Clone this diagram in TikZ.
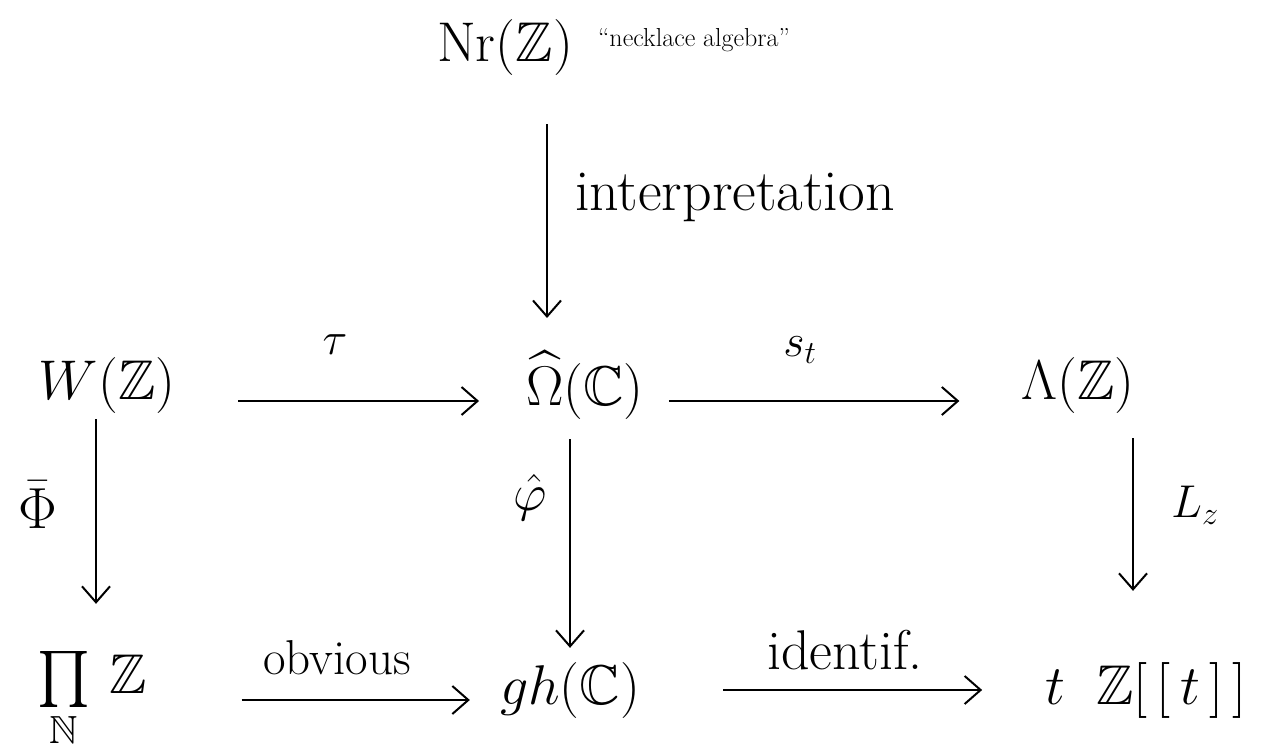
\RequirePackage{fix-cm}
\documentclass[tikz,border=0pt]{standalone}
\usepackage{amsmath,amssymb}
\usetikzlibrary{arrows.meta}
\begin{document}
\begin{tikzpicture}[x=1pt,y=-1pt,
  obj/.style={font=\fontsize{56}{64}\selectfont, inner sep=3pt},
  mlbl/.style={font=\fontsize{46}{52}\selectfont, inner sep=0pt},
  wlbl/.style={inner sep=0pt},
  arr/.style={-{Straight Barb[length=16pt,width=28pt,line width=2pt]}, line width=2pt}]
\useasboundingbox (0,0) rectangle (1276,754);
% objects
\node[obj] (N) at (505,48) {$\mathrm{Nr}(\mathbb{Z})$};
\node[wlbl, font=\fontsize{26}{30}\selectfont, anchor=west] (nl) at (598,40) {``necklace algebra''};
\node[obj] (W) at (107,385) {$W(\mathbb{Z})$};
\node[obj] (O) at (585,385) {$\widehat{\Omega}(\mathbb{C})$};
\node[obj] (L) at (1078,385) {$\Lambda(\mathbb{Z})$};
\node[obj] (P) at (92,700) {$\prod\limits_{\mathbb{N}}\,\mathbb{Z}$};
\node[obj] (G) at (570,690) {$gh(\mathbb{C})$};
\node[obj] (T) at (1146,690) {$t\;\;\mathbb{Z}[\,[\,t\,]\,]$};
% labels
\node[wlbl, font=\fontsize{58}{64}\selectfont, anchor=west] (il) at (575,197) {interpretation};
\node[mlbl] (tau) at (335,345) {$\tau$};
\node[mlbl] (st) at (800,350) {$s_t$};
\node[mlbl, font=\fontsize{58}{64}\selectfont] (phi) at (38,505) {$\bar{\Phi}$};
\node[mlbl, font=\fontsize{52}{60}\selectfont] (vphi) at (530,497) {$\hat{\varphi}$};
\node[mlbl] (lz) at (1195,505) {$L_z$};
\node[wlbl, font=\fontsize{49}{56}\selectfont] (ob) at (337,658) {obvious};
\node[wlbl, font=\fontsize{56}{62}\selectfont] (id) at (845,650) {identif.};
% arrows
\draw[arr, shorten <=45pt] ([xshift=42pt]N.south) -- ([xshift=-38pt]O.north |- 0,318);
\draw[arr, shorten <=60pt, shorten >=44pt] ([yshift=-16pt]W.east) -- ([yshift=-16pt]O.west);
\draw[arr, shorten <=22pt, shorten >=59pt] ([yshift=-16pt]O.east) -- ([yshift=-16pt]L.west);
\draw[arr, shorten <=3pt, shorten >=44pt] ([xshift=-11pt]W.south) -- ([xshift=-11pt]W.south |- P.north);
\draw[arr, shorten <=17pt, shorten >=11pt] ([xshift=-15pt]O.south) -- ([xshift=-15pt]O.south |- G.north);
\draw[arr, shorten <=22pt, shorten >=68pt] ([xshift=55pt]L.south) -- ([xshift=55pt]L.south |- T.north);
\draw[arr, shorten <=92pt, shorten >=27pt] ([yshift=-10pt]P.east |- G) -- ([yshift=-10pt]G.west);
\draw[arr, shorten <=80pt, shorten >=60pt] (G.east) -- (T.west);
\end{tikzpicture}
\end{document}
